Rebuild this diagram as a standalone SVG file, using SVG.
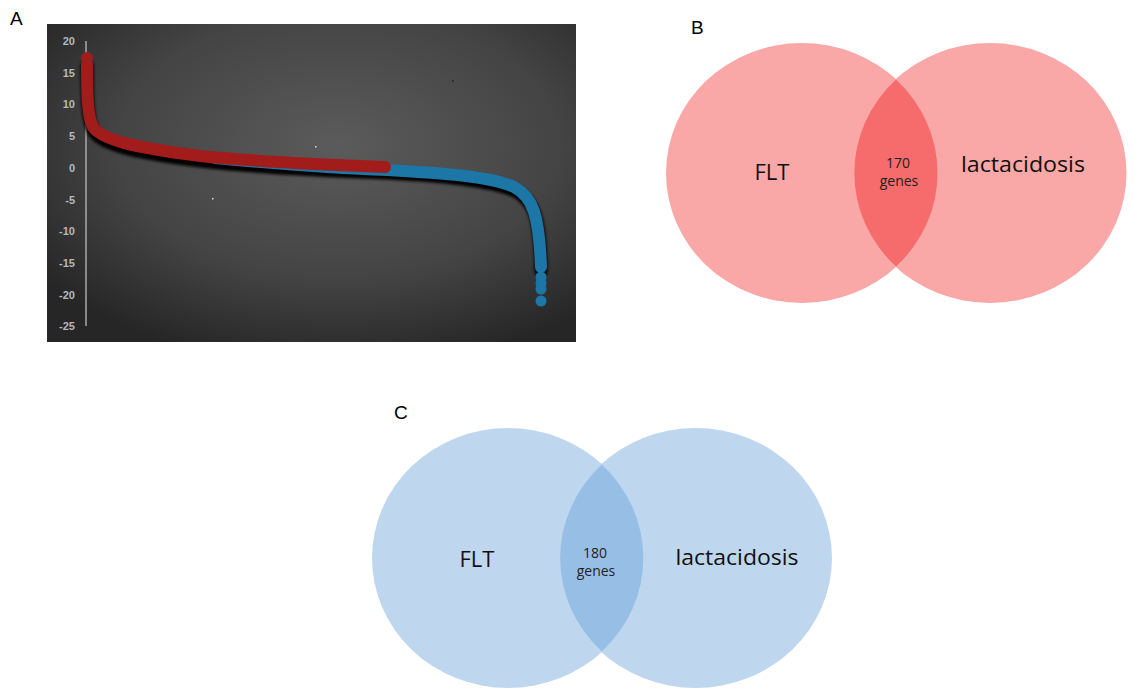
<svg xmlns="http://www.w3.org/2000/svg" width="1135" height="697" viewBox="0 0 1135 697">
<style>
.lbl{font-family:"Liberation Sans",Arial,sans-serif;font-size:19px;fill:#000}
.ax{font-family:"Liberation Sans",Arial,sans-serif;font-size:11px;font-weight:bold;fill:#b8b8b8;text-anchor:end}
.big{font-family:"Open Sans","Noto Sans",sans-serif;font-size:22px;fill:#111;text-anchor:middle}
.sm{font-family:"Open Sans","Noto Sans",sans-serif;font-size:14px;fill:#222;text-anchor:middle}
.pink{fill:#F9A7A7}
.pinkX{fill:#F66B6B}
.blue{fill:#BFD7EE}
.blueX{fill:#97BFE6}
.redc{fill:none;stroke:#A31C1C;stroke-width:12;stroke-linecap:round;stroke-linejoin:round}
.bluec{fill:none;stroke:#1D77A6;stroke-width:12;stroke-linecap:round;stroke-linejoin:round}
.shad{fill:none;stroke:#000;stroke-width:13;stroke-linecap:round;stroke-linejoin:round}
</style>
<defs>
<radialGradient id="bg" cx="0.55" cy="0.38" r="0.7">
<stop offset="0" stop-color="#5b5b5b"/>
<stop offset="0.6" stop-color="#444"/>
<stop offset="1" stop-color="#262626"/>
</radialGradient>
<filter id="blur" x="-10%" y="-10%" width="120%" height="120%"><feGaussianBlur stdDeviation="1.5"/></filter>
</defs>
<rect width="1135" height="697" fill="#fff"/>

<g id="panelA">
<text class="lbl" x="10" y="25">A</text>
<rect x="47" y="24" width="529" height="318" fill="url(#bg)"/>
<line x1="86" y1="41" x2="86" y2="326" stroke="#aaa" stroke-width="1.5"/>
<g>
<text class="ax" x="75" y="45">20</text>
<text class="ax" x="75" y="77">15</text>
<text class="ax" x="75" y="108">10</text>
<text class="ax" x="75" y="140">5</text>
<text class="ax" x="75" y="172">0</text>
<text class="ax" x="75" y="204">-5</text>
<text class="ax" x="75" y="235">-10</text>
<text class="ax" x="75" y="267">-15</text>
<text class="ax" x="75" y="299">-20</text>
<text class="ax" x="75" y="330">-25</text>
</g>
<g filter="url(#blur)" transform="translate(0,4)">
<path class="shad" d="M87,62 C87,100 88,118 94,128 C102,140 130,148 200,157 C260,164 330,167 387,169 C440,172 490,176 515,187 C535,197 540,215 541,267"/>
</g>
<path class="bluec" d="M215,158 C280,164 330,168 387,170 C440,173 490,176 514,187 C533,197 539,215 541,267"/>
<path class="redc" d="M87,64 C87,100 88,117 93,127 C101,139 130,147 200,156 C260,162 330,165 385,167"/>
<circle cx="87" cy="58" r="6" fill="#A31C1C"/>
<g fill="#1D77A6">
<circle cx="541" cy="277" r="5.5"/>
<circle cx="541" cy="283" r="5.5"/>
<circle cx="541" cy="289" r="5.5"/>
<circle cx="541" cy="301" r="5.5"/>
</g>
<g fill="#ddd">
<rect x="212" y="198" width="1.5" height="1.5"/>
<rect x="315" y="146" width="1.5" height="1.5"/>
<rect x="452" y="80" width="1.5" height="1.5" fill="#222"/>
</g>
</g>

<g id="panelB">
<text class="lbl" x="691" y="34">B</text>
<g id="B-FLT"><ellipse class="pink" cx="802" cy="173" rx="136" ry="130"/></g>
<g id="B-lact"><ellipse class="pink" cx="990" cy="173" rx="136.5" ry="130"/></g>
<g id="B-overlap"><path class="pinkX" d="M896,79.5 A136,130 0 0 1 896,266.5 A136.5,130 0 0 1 896,79.5 Z"/></g>
<text class="big" x="772" y="180">FLT</text>
<text class="big" x="1023" y="172" textLength="124" lengthAdjust="spacingAndGlyphs">lactacidosis</text>
<text class="sm" x="898" y="168">170</text>
<text class="sm" x="899" y="186">genes</text>
</g>

<g id="panelC">
<text class="lbl" x="394" y="419">C</text>
<g id="C-FLT"><ellipse class="blue" cx="508" cy="558" rx="136" ry="130"/></g>
<g id="C-lact"><ellipse class="blue" cx="695.5" cy="558" rx="136.5" ry="130"/></g>
<g id="C-overlap"><path class="blueX" d="M601.8,464.5 A136,130 0 0 1 601.8,651.5 A136.5,130 0 0 1 601.8,464.5 Z"/></g>
<text class="big" x="477" y="567">FLT</text>
<text class="big" x="737" y="565" textLength="123" lengthAdjust="spacingAndGlyphs">lactacidosis</text>
<text class="sm" x="595" y="558">180</text>
<text class="sm" x="596" y="576">genes</text>
</g>
</svg>
